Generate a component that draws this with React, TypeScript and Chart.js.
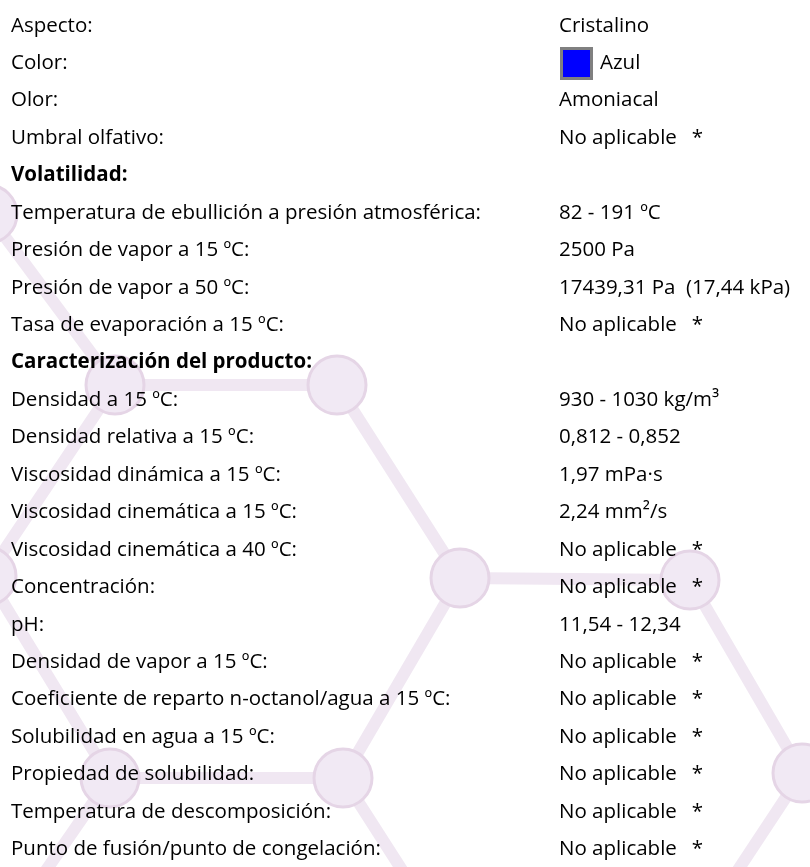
import React, { useEffect, useRef } from "react";
import { Chart, registerables } from "chart.js";

Chart.register(...registerables);

// ---- Table content ----
const rowLabels: string[] = [
  "Aspecto:",
  "Color:",
  "Olor:",
  "Umbral olfativo:",
  "Volatilidad:",
  "Temperatura de ebullición a presión atmosférica:",
  "Presión de vapor a 15 ºC:",
  "Presión de vapor a 50 ºC:",
  "Tasa de evaporación a 15 ºC:",
  "Caracterización del producto:",
  "Densidad a 15 ºC:",
  "Densidad relativa a 15 ºC:",
  "Viscosidad dinámica a 15 ºC:",
  "Viscosidad cinemática a 15 ºC:",
  "Viscosidad cinemática a 40 ºC:",
  "Concentración:",
  "pH:",
  "Densidad de vapor a 15 ºC:",
  "Coeficiente de reparto n-octanol/agua a 15 ºC:",
  "Solubilidad en agua a 15 ºC:",
  "Propiedad de solubilidad:",
  "Temperatura de descomposición:",
  "Punto de fusión/punto de congelación:",
];

const rowValues: (string | null)[] = [
  "Cristalino",
  "Azul",
  "Amoniacal",
  "No aplicable *",
  null,
  "82 - 191 ºC",
  "2500 Pa",
  "17439,31 Pa  (17,44 kPa)",
  "No aplicable *",
  null,
  "930 - 1030 kg/m³",
  "0,812 - 0,852",
  "1,97 mPa·s",
  "2,24 mm²/s",
  "No aplicable *",
  "No aplicable *",
  "11,54 - 12,34",
  "No aplicable *",
  "No aplicable *",
  "No aplicable *",
  "No aplicable *",
  "No aplicable *",
  "No aplicable *",
];

const headingRows: number[] = [4, 9];
const swatchRows: number[] = [1];
const swatchColors: string[] = ["#0000ff"];

// ---- Watermark (molecule lattice) ----
const nodeX: number[] = [-12, 115, 337, -13, 460, 690, 110, 343, 802, -25, 468, 670];
const nodeY: number[] = [214, 385, 385, 576, 578, 580, 778, 778, 773, 973, 973, 973];
const nodeVisible: boolean[] = [true, true, true, true, true, true, true, true, true, false, false, false];
const bondFrom: number[] = [0, 1, 1, 2, 3, 6, 7, 4, 5, 6, 7, 8];
const bondTo: number[] = [1, 2, 3, 4, 6, 7, 4, 5, 8, 9, 10, 11];

const FONT = "'Open Sans', 'Noto Sans', sans-serif";
const FS = 20.5;
const ROW_TOP = 5.5;
const ROW_H = 37.44;

export default function App() {
  const canvasRef = useRef<HTMLCanvasElement | null>(null);

  useEffect(() => {
    const canvas = canvasRef.current;
    if (!canvas) return;
    const bondSets = bondFrom.map((f, i) => ({
      type: "scatter" as const,
      data: [
        { x: nodeX[f], y: nodeY[f] },
        { x: nodeX[bondTo[i]], y: nodeY[bondTo[i]] },
      ],
      showLine: true,
      borderColor: "#f0e7f2",
      borderWidth: 12,
      borderCapStyle: "butt" as const,
      pointRadius: 0,
      clip: false,
      order: 2,
    }));
    const nodeSet = {
      type: "scatter" as const,
      data: nodeX
        .map((x, i) => ({ x, y: nodeY[i] }))
        .filter((_, i) => nodeVisible[i]),
      showLine: false,
      pointRadius: 29,
      pointBackgroundColor: "#f1e9f4",
      pointBorderColor: "#e5d5e6",
      pointBorderWidth: 3,
      clip: false,
      order: 1,
    };
    const chart = new Chart(canvas, {
      type: "scatter",
      data: { datasets: [nodeSet as any, ...(bondSets as any[])] },
      options: {
        animation: false,
        responsive: false,
        devicePixelRatio: 1,
        events: [],
        layout: { padding: 0, autoPadding: false },
        plugins: { legend: { display: false }, tooltip: { enabled: false } },
        scales: {
          x: { type: "linear", min: 0, max: 810, display: false },
          y: { type: "linear", min: 0, max: 867, reverse: true, display: false },
        },
      },
    });
    return () => chart.destroy();
  }, []);

  return (
    <div
      style={{
        position: "fixed",
        left: 0,
        top: 0,
        width: 810,
        height: 867,
        overflow: "hidden",
        background: "#ffffff",
      }}
    >
      <canvas
        ref={canvasRef}
        width={810}
        height={867}
        style={{ position: "absolute", left: 0, top: 0, width: 810, height: 867 }}
      />
      {rowLabels.map((label, i) => {
        const value = rowValues[i];
        const isHead = headingRows.includes(i);
        const swIdx = swatchRows.indexOf(i);
        let valueNode: React.ReactNode = null;
        if (value !== null) {
          if (value.endsWith(" *")) {
            valueNode = (
              <>
                {value.slice(0, -2)}
                <span style={{ marginLeft: 15 }}>*</span>
              </>
            );
          } else {
            valueNode = value;
          }
        }
        return (
          <div
            key={i}
            style={{
              position: "absolute",
              left: 0,
              top: ROW_TOP + i * ROW_H,
              width: 810,
              height: ROW_H,
              lineHeight: ROW_H + "px",
              fontFamily: FONT,
              fontSize: FS,
              color: "#000",
              whiteSpace: "pre",
            }}
          >
            <span
              style={{
                position: "absolute",
                left: 11,
                top: 0,
                fontWeight: isHead ? 700 : 400,
              }}
            >
              {label}
            </span>
            {value !== null && (
              <span style={{ position: "absolute", left: 559, top: 0 }}>
                {swIdx >= 0 && (
                  <span
                    style={{
                      display: "inline-block",
                      width: 27,
                      height: 27,
                      border: "3px solid #808080",
                      background: swatchColors[swIdx],
                      verticalAlign: "middle",
                      marginRight: 7,
                      marginLeft: 1,
                    }}
                  />
                )}
                {valueNode}
              </span>
            )}
          </div>
        );
      })}
    </div>
  );
}
